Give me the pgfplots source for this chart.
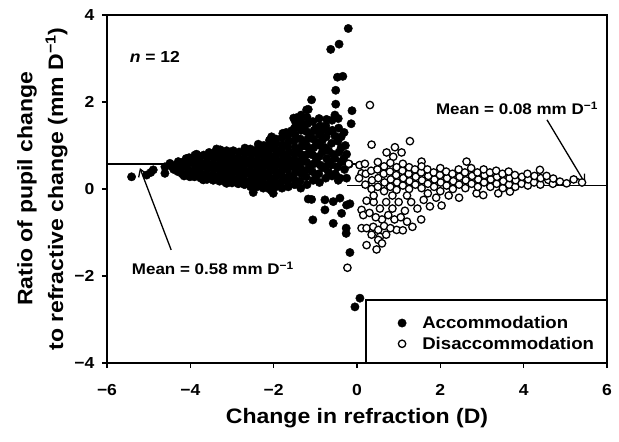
\documentclass[border=0pt]{standalone}
\usepackage{fontspec}
\setmainfont{Liberation Sans}[FakeStretch=1.1]
\usepackage{pgfplots}
\pgfplotsset{compat=1.18}
\usetikzlibrary{arrows.meta}

\newcommand{\fs}[1]{\fontsize{#1}{#1}\selectfont\bfseries}

\begin{document}
\begin{tikzpicture}
\begin{axis}[
  scale only axis, width=500bp, height=348bp,
  xmin=-6, xmax=6, ymin=-4, ymax=4,
  xtick={-6,-4,...,6}, ytick={-4,-2,...,4},
  xticklabels={−6,−4,−2,0,2,4,6},
  yticklabels={−4,−2,0,2,4},
  tick pos=left, tick align=outside,
  major tick length=5bp,
  axis line style={line width=1.6bp},
  every tick/.style={black, line width=1.4bp},
  tick label style={font=\fs{16}},
  xticklabel style={yshift=-13bp},
  yticklabel style={xshift=-4bp},
  xlabel={Change in refraction (D)},
  ylabel={Ratio of pupil change\\[6bp]to refractive change (mm D\textsuperscript{−1})},
  label style={font=\fontsize{21}{25}\selectfont\bfseries, align=center},
  xlabel style={yshift=-6bp},
  ylabel style={yshift=0bp},
  legend style={draw=none, fill=none, at={(axis cs:3.36,-3.32)}, anchor=center,
    font=\fs{17}, inner sep=0pt, row sep=3bp,
    /tikz/every odd column/.append style={column sep=14bp}},
  legend cell align=left,
  clip=false,
]
% mean lines
\addplot[black, line width=1.5bp, forget plot] coordinates {(-6,0.58) (0.02,0.58)};
\addplot[black, line width=1.5bp, forget plot] coordinates {(-0.24,0.08) (6,0.08)};

% accommodation
\addplot[only marks, mark=*, mark size=4.2bp, black] coordinates {
(-5.41,0.28) (-5.05,0.32) (-4.89,0.44) (-4.95,0.38) (-4.61,0.51) (-4.61,0.36)
(-4.49,0.59) (-4.40,0.45) (-4.29,0.63) (-4.30,0.40) (-4.15,0.30) (-4.10,0.70)
(-4.01,0.28) (-3.85,0.80) (-3.77,0.74) (-3.69,0.21) (-3.55,0.84) (-3.37,0.92)
(-3.13,0.13) (-2.97,0.88) (-2.69,0.94) (-2.49,-0.08) (-2.37,1.03) (-2.05,-0.04)
(-2.05,1.20) (-2.01,-0.10) (-1.70,1.30) (-1.57,1.34) (-1.52,1.63) (-1.45,1.64)
(-1.34,1.70) (-1.21,1.82) (-1.17,1.83) (-1.09,2.05) (-0.53,1.70) (-0.51,1.95)
(-0.51,2.27) (-0.47,2.57) (-0.34,2.59) (-0.43,3.33) (-0.63,3.21) (-0.21,3.69)
(-0.12,1.80) (-0.14,1.50) (-0.41,0.25) (-0.19,0.57)
(-1.17,-0.23) (-1.09,-0.24) (-0.77,-0.25) (-0.57,-0.29) (-0.41,-0.21)
(-1.06,-0.71) (-0.77,-0.48) (-0.57,-0.79) (-0.37,-0.56) (-0.25,-0.37) (-0.17,-0.34)
(-0.26,-0.90) (-0.26,-1.02) (-0.17,-1.46) (-0.05,-2.71) (0.07,-2.51)
(-4.45,0.52) (-4.35,0.55) (-4.25,0.42) (-4.12,0.52) (-3.98,0.35) (-3.98,0.62)
(-3.82,0.45) (-3.82,0.68) (-3.68,0.30) (-3.68,0.55) (-3.68,0.78)
(-4.20,0.35) (-4.22,0.50) (-4.18,0.62)
(-4.05,0.45) (-4.07,0.58) (-4.03,0.72)
(-3.90,0.28) (-3.92,0.40) (-3.88,0.52) (-3.91,0.65) (-3.89,0.78)
(-3.75,0.25) (-3.77,0.37) (-3.73,0.50) (-3.76,0.62)
(-3.60,0.22) (-3.62,0.35) (-3.58,0.47) (-3.61,0.60) (-3.59,0.72)
(-3.45,0.20) (-3.47,0.32) (-3.43,0.45) (-3.46,0.57) (-3.44,0.70) (-3.45,0.82)
(-3.30,0.18) (-3.32,0.30) (-3.28,0.42) (-3.31,0.55) (-3.29,0.67) (-3.30,0.80) (-3.28,0.90)
(-3.15,0.15) (-3.17,0.28) (-3.13,0.40) (-3.16,0.52) (-3.14,0.65) (-3.15,0.78) (-3.13,0.88)
(-3.00,0.14) (-3.02,0.26) (-2.98,0.38) (-3.01,0.50) (-2.99,0.62) (-3.00,0.75)
(-2.85,0.12) (-2.87,0.24) (-2.83,0.36) (-2.86,0.48) (-2.84,0.60) (-2.85,0.72) (-2.83,0.85)
(-2.70,0.10) (-2.72,0.22) (-2.68,0.34) (-2.71,0.46) (-2.69,0.58) (-2.70,0.70) (-2.68,0.82)
(-2.55,0.05) (-2.57,0.18) (-2.53,0.30) (-2.56,0.42) (-2.54,0.55) (-2.55,0.67) (-2.53,0.80) (-2.56,0.92)
(-2.40,0.05) (-2.42,0.17) (-2.38,0.29) (-2.41,0.41) (-2.39,0.53) (-2.40,0.65) (-2.38,0.78) (-2.41,0.90)
(-2.25,0.02) (-2.27,0.15) (-2.23,0.27) (-2.26,0.40) (-2.24,0.52) (-2.25,0.64) (-2.23,0.76) (-2.26,0.88) (-2.24,1.00)
(-2.10,0.00) (-2.12,0.12) (-2.08,0.25) (-2.11,0.37) (-2.09,0.50) (-2.10,0.62) (-2.08,0.75) (-2.11,0.87) (-2.09,1.00) (-2.10,1.12)
(-1.95,0.05) (-1.97,0.17) (-1.93,0.30) (-1.96,0.42) (-1.94,0.55) (-1.95,0.67) (-1.93,0.80) (-1.96,0.92) (-1.94,1.05) (-1.95,1.15)
(-1.80,0.02) (-1.82,0.15) (-1.78,0.28) (-1.81,0.40) (-1.79,0.52) (-1.80,0.65) (-1.78,0.78) (-1.81,0.90) (-1.79,1.02) (-1.80,1.18) (-1.78,1.28)
(-1.65,0.05) (-1.67,0.18) (-1.63,0.30) (-1.66,0.45) (-1.64,0.58) (-1.65,0.70) (-1.63,0.85) (-1.66,0.98) (-1.64,1.10) (-1.65,1.25)
(-1.50,0.10) (-1.52,0.25) (-1.48,0.38) (-1.51,0.52) (-1.49,0.66) (-1.50,0.80) (-1.48,0.95) (-1.51,1.10) (-1.49,1.25) (-1.50,1.40) (-1.48,1.55)
(-1.35,0.02) (-1.37,0.18) (-1.33,0.35) (-1.36,0.50) (-1.34,0.65) (-1.35,0.80) (-1.33,0.98) (-1.36,1.15) (-1.34,1.35) (-1.35,1.55)
(-1.20,0.10) (-1.22,0.28) (-1.18,0.45) (-1.21,0.62) (-1.19,0.80) (-1.20,0.98) (-1.18,1.15) (-1.21,1.32) (-1.19,1.50) (-1.20,1.65)
(-1.05,0.20) (-1.07,0.40) (-1.03,0.58) (-1.06,0.78) (-1.04,0.95) (-1.05,1.15) (-1.03,1.35) (-1.06,1.55)
(-0.90,0.15) (-0.92,0.35) (-0.88,0.55) (-0.91,0.75) (-0.89,1.00) (-0.90,1.25) (-0.88,1.45) (-0.91,1.62)
(-0.75,0.25) (-0.77,0.48) (-0.73,0.70) (-0.76,0.95) (-0.74,1.20) (-0.75,1.45) (-0.73,1.60)
(-0.60,0.30) (-0.62,0.55) (-0.58,0.80) (-0.61,1.05) (-0.59,1.35) (-0.60,1.58)
(-0.45,0.20) (-0.47,0.50) (-0.43,0.85) (-0.46,1.10) (-0.44,1.40) (-0.45,1.62)
(-0.30,0.45) (-0.32,0.70) (-0.28,1.00) (-0.31,1.30)
(-1.42,0.88) (-1.28,0.72) (-1.28,1.05) (-1.12,0.88) (-1.12,1.25) (-0.98,0.65)
(-0.98,1.08) (-0.98,1.40) (-0.83,0.85) (-0.83,1.12) (-0.83,1.35) (-0.68,0.62)
(-0.68,0.88) (-0.68,1.32) (-0.53,0.70) (-0.53,1.22) (-0.38,0.62) (-0.38,0.95)
(-0.38,1.20) (-0.52,0.35) (-0.68,0.38) (-0.83,0.50) (-0.98,0.30) (-1.12,0.55)
(-1.28,0.40) (-0.25,0.80) (-0.25,0.25) (-1.42,1.45) (-1.28,1.48)
};
\addlegendentry{Accommodation}

% disaccommodation
\addplot[only marks, mark=*, mark size=3.7bp, black, line width=1.3bp, fill=white,
  mark options={fill=white}] coordinates {
(-0.23,-1.81) (0.31,1.93) (0.35,1.02) (1.27,1.10) (0.91,0.96) (1.07,0.84) (0.71,0.84)
(0.87,0.74) (1.55,0.63) (2.63,0.63) (4.39,0.44) (-0.20,0.58) (0.11,0.36)
(0.05,0.25) (0.06,0.55)
(0.20,0.10) (0.21,0.35) (0.19,0.58)
(0.35,0.00) (0.36,0.20) (0.34,0.42)
(0.50,0.05) (0.51,0.25) (0.49,0.45) (0.50,0.62)
(0.65,-0.05) (0.66,0.15) (0.64,0.35) (0.65,0.52)
(0.80,0.05) (0.81,0.22) (0.79,0.40) (0.80,0.60)
(0.95,-0.02) (0.96,0.15) (0.94,0.32) (0.95,0.50)
(1.10,0.08) (1.11,0.25) (1.09,0.42) (1.10,0.58)
(1.25,0.00) (1.26,0.18) (1.24,0.35) (1.25,0.50)
(1.40,0.10) (1.41,0.28) (1.39,0.45)
(1.55,0.02) (1.56,0.20) (1.54,0.38) (1.55,0.52)
(1.70,0.12) (1.71,0.30) (1.69,0.45)
(1.85,0.05) (1.86,0.22) (1.84,0.38)
(2.00,-0.05) (2.01,0.15) (1.99,0.32) (2.00,0.48)
(2.15,0.08) (2.16,0.25) (2.14,0.40)
(2.30,0.00) (2.31,0.18) (2.29,0.35)
(2.45,0.10) (2.46,0.28) (2.44,0.45)
(2.60,0.02) (2.61,0.20) (2.59,0.38)
(2.75,0.12) (2.76,0.30) (2.74,0.48)
(2.87,-0.10) (2.90,0.05) (2.91,0.22) (2.89,0.38)
(3.03,-0.14) (3.05,0.15) (3.06,0.32) (3.04,0.45)
(3.20,0.05) (3.21,0.22) (3.19,0.38)
(3.39,-0.10) (3.35,0.12) (3.36,0.28) (3.34,0.42)
(3.50,0.02) (3.51,0.18) (3.49,0.35)
(3.67,-0.06) (3.65,0.10) (3.66,0.25) (3.64,0.40)
(3.80,0.05) (3.81,0.20) (3.79,0.32)
(3.95,0.12) (3.96,0.28)
(4.10,0.08) (4.11,0.22) (4.09,0.35)
(4.25,0.15) (4.26,0.30)
(4.40,0.10) (4.41,0.25)
(4.59,0.21) (4.55,0.30)
(4.70,0.12) (4.71,0.24)
(4.87,0.17) (5.03,0.13) (5.20,0.22) (5.40,0.15)
(0.23,-0.27) (0.11,-0.48) (0.15,-0.60) (0.11,-0.90) (0.23,-0.90) (0.39,-0.87)
(0.51,-0.94) (0.55,-1.10) (0.51,-1.17) (0.23,-1.29) (0.47,-1.39) (0.95,-0.94)
(1.33,-0.87) (1.54,-0.70) (2.03,-0.38)
(0.40,-0.30) (0.55,-0.45) (0.70,-0.30) (0.85,-0.45) (1.00,-0.30) (1.15,-0.50)
(1.30,-0.30) (1.45,-0.45) (1.60,-0.25) (1.75,-0.40) (1.90,-0.20) (2.20,-0.15)
(2.45,-0.20) (0.60,-0.70) (0.75,-0.60) (0.90,-0.70) (1.05,-0.65) (1.20,-0.75)
(0.45,-0.65) (0.30,-0.55) (0.35,-1.05) (0.65,-0.85) (0.80,-0.90) (0.70,-1.05)
(1.10,-0.95) (0.60,-1.25) (0.40,-0.15) (0.85,-0.15) (1.20,-0.15) (1.70,-0.10)
};
\addlegendentry{Disaccommodation}

% legend frame, annotations
\draw[line width=1.6bp] (axis cs:0.22,-4) |- (axis cs:6,-2.55);
\node[font=\fs{16}] at (axis cs:-4.85,3.03) {\textit{n} = 12};
\node[font=\fs{15.5}] at (axis cs:-3.46,-1.82) {Mean = 0.58 mm D\textsuperscript{−1}};
\node[font=\fs{15.5}] at (axis cs:3.84,1.86) {Mean = 0.08 mm D\textsuperscript{−1}};
\draw[line width=1.3bp, -{Straight Barb[length=7bp,width=9bp]}] (axis cs:-4.46,-1.40) -- (axis cs:-5.21,0.48);
\draw[line width=1.3bp, -{Straight Barb[length=7bp,width=9bp]}] (axis cs:4.56,1.59) -- (axis cs:5.47,0.14);

\coordinate (sw) at (rel axis cs:0,0);
\coordinate (ne) at (rel axis cs:1,1);
\end{axis}
\pgfresetboundingbox
\path ([shift={(-107bp,-79bp)}]sw) rectangle ([shift={(12bp,15bp)}]ne);
\end{tikzpicture}
\end{document}
